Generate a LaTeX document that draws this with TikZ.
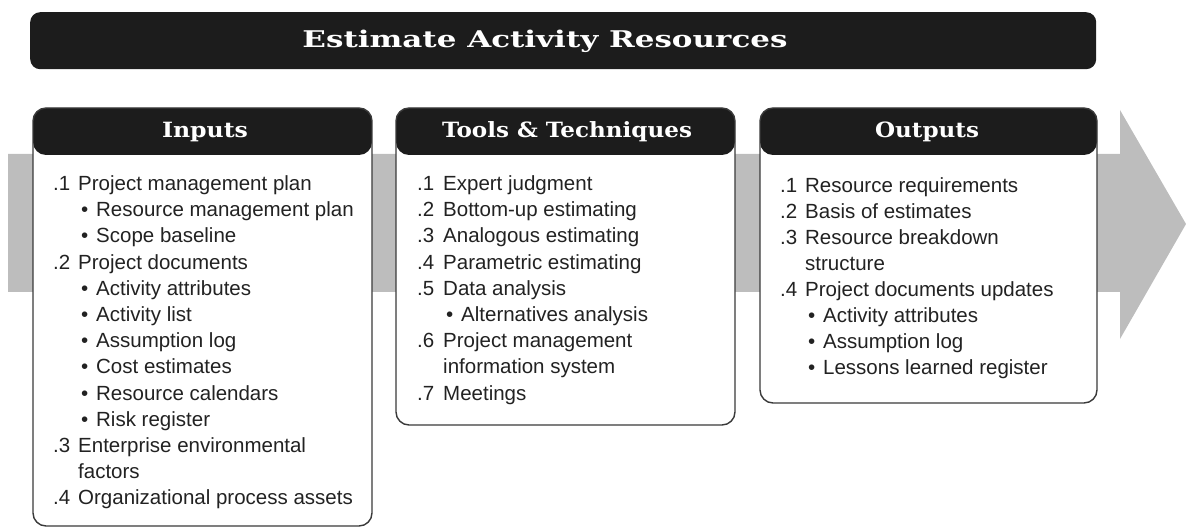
\documentclass[tikz,border=0pt]{standalone}
\usepackage{fontspec}
\setmainfont{Liberation Sans}
\newfontfamily\slabfont{DejaVu Serif}
\usepackage{graphicx}
\definecolor{hdr}{HTML}{1C1C1C}
\definecolor{band}{HTML}{BDBDBD}
\definecolor{edge}{HTML}{3A3A3A}
\definecolor{ink}{HTML}{222222}
\tikzset{
  boxframe/.style={draw=edge, line width=1.4pt, rounded corners=13pt, fill=white,
    anchor=north west, inner sep=0pt, outer sep=0pt,
    path picture={\fill[hdr] (path picture bounding box.north west) rectangle ([yshift=-47pt]path picture bounding box.north east);}},
  hdrtext/.style={text=white, font=\slabfont\bfseries\fontsize{21}{24}\selectfont, inner sep=0pt},
  listtext/.style={anchor=base west, inner sep=0pt, text=ink},
}
\newcommand{\bl}[1]{\makebox[18pt][l]{\hspace{3pt}\textbullet}#1}
\newcommand{\lsize}[1]{\fontsize{20.5}{#1}\selectfont}
\begin{document}
\begin{tikzpicture}[x=1pt,y=-1pt]
\useasboundingbox (0,0) rectangle (1186,529);
% background arrow
\fill[band] (8,154) -- (1120,154) -- (1120,110) -- (1186,224) -- (1120,339) -- (1120,292) -- (8,292) -- cycle;
% title bar
\node[fill=hdr, rounded corners=10pt, minimum width=1066pt, minimum height=57pt, anchor=north west, inner sep=0pt] (titlebar) at (30,12) {};
\node[text=white, font=\slabfont\bfseries\fontsize{23}{26}\selectfont, inner sep=0pt] (title) at (545,41) {\resizebox{485pt}{\height}{Estimate Activity Resources}};
% boxes
\node[boxframe, minimum width=339pt, minimum height=418pt] (inputs) at (33,108) {};
\node[boxframe, minimum width=339pt, minimum height=317pt] (tools) at (396,108) {};
\node[boxframe, minimum width=337pt, minimum height=295pt] (outputs) at (760,108) {};
% headers
\node[hdrtext] (inputs-head) at (205,132) {\resizebox{86pt}{\height}{Inputs}};
\node[hdrtext] (tools-head) at (567,132) {\resizebox{250pt}{\height}{Tools \& Techniques}};
\node[hdrtext] (outputs-head) at (927,132) {\resizebox{104pt}{\height}{Outputs}};
% lists
\node[listtext] (inputs-list) at (53,190.5) {\lsize{26.2}\begin{tabular}[t]{@{}p{25pt}@{}l@{}}
.1 & Project management plan\\
 & \bl{Resource management plan}\\
 & \bl{Scope baseline}\\
.2 & Project documents\\
 & \bl{Activity attributes}\\
 & \bl{Activity list}\\
 & \bl{Assumption log}\\
 & \bl{Cost estimates}\\
 & \bl{Resource calendars}\\
 & \bl{Risk register}\\
.3 & Enterprise environmental\\
 & factors\\
.4 & Organizational process assets
\end{tabular}};
\node[listtext] (tools-list) at (417,190.5) {\lsize{26.2}\begin{tabular}[t]{@{}p{26pt}@{}l@{}}
.1 & Expert judgment\\
.2 & Bottom-up estimating\\
.3 & Analogous estimating\\
.4 & Parametric estimating\\
.5 & Data analysis\\
 & \bl{Alternatives analysis}\\
.6 & Project management\\
 & information system\\
.7 & Meetings
\end{tabular}};
\node[listtext] (outputs-list) at (780,193) {\lsize{25.9}\begin{tabular}[t]{@{}p{25pt}@{}l@{}}
.1 & Resource requirements\\
.2 & Basis of estimates\\
.3 & Resource breakdown\\
 & structure\\
.4 & Project documents updates\\
 & \bl{Activity attributes}\\
 & \bl{Assumption log}\\
 & \bl{Lessons learned register}
\end{tabular}};
\end{tikzpicture}
\end{document}
